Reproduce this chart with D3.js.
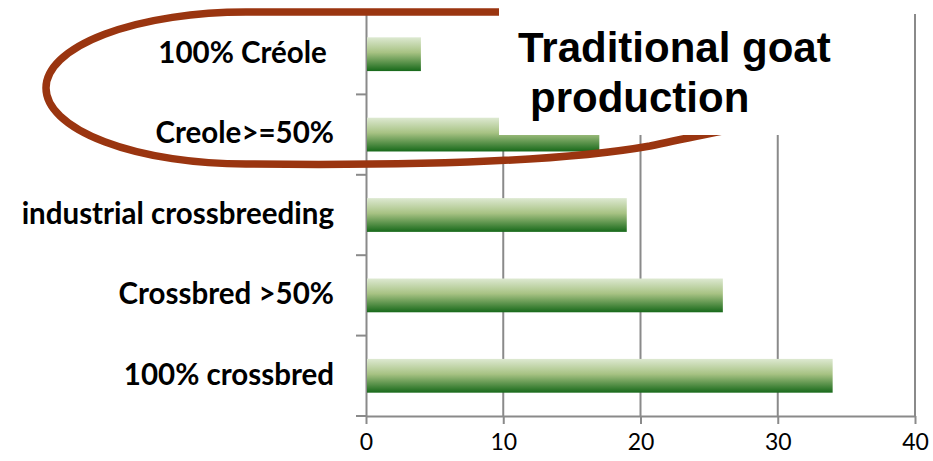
<!DOCTYPE html>
<html>
<head>
<meta charset="utf-8">
<script src="https://cdn.jsdelivr.net/npm/d3@7"></script>
<style>
  body { margin: 0; background: #fff; }
  svg { display: block; }
</style>
</head>
<body>
<svg id="chart" width="933" height="461"></svg>
<script>
// ── DATA ──────────────────────────────────────────────────────
const categories = ["100% Créole ", "Creole>=50%", "industrial crossbreeding", "Crossbred >50%", "100% crossbred"];
const values     = [4, 17, 19, 26, 34];
const xTicks     = [0, 10, 20, 30, 40];
const titleLines = ["Traditional goat", "production"];

const data = categories.map((c, i) => ({ label: c, value: values[i] }));

// ── LAYOUT ────────────────────────────────────────────────────
const svg = d3.select("#chart");
const plotLeft = 366, plotRight = 915, plotTop = 14, plotBottom = 416;

const x = d3.scaleLinear().domain([0, 40]).range([plotLeft, plotRight]);
const y = d3.scaleBand().domain(categories).range([plotTop, plotBottom]).padding(0);

const axisColor = "#8a8a8a";

// gradient for the bars: light on top, dark green at bottom
const grad = svg.append("defs").append("linearGradient")
  .attr("id", "barGrad")
  .attr("x1", 0).attr("y1", 0).attr("x2", 0).attr("y2", 1);
grad.append("stop").attr("offset", "0%").attr("stop-color", "#dde9d1");
grad.append("stop").attr("offset", "45%").attr("stop-color", "#a7c283");
grad.append("stop").attr("offset", "100%").attr("stop-color", "#17691a");

// ── GRIDLINES ─────────────────────────────────────────────────
svg.append("g")
  .selectAll("line")
  .data(xTicks.filter(t => t > 0))
  .join("line")
    .attr("x1", d => x(d)).attr("x2", d => x(d))
    .attr("y1", plotTop).attr("y2", plotBottom)
    .attr("stroke", axisColor)
    .attr("stroke-width", 2);

// ── X AXIS ────────────────────────────────────────────────────
const xAxis = svg.append("g")
  .attr("transform", `translate(0, ${plotBottom})`)
  .call(d3.axisBottom(x).tickValues(xTicks).tickSize(8).tickSizeOuter(0).tickPadding(10));

xAxis.select(".domain").attr("stroke", axisColor).attr("stroke-width", 2);
xAxis.selectAll(".tick line").attr("stroke", axisColor).attr("stroke-width", 2);
xAxis.selectAll(".tick text")
  .style("font-family", "Lato, sans-serif")
  .style("font-size", "23px")
  .attr("fill", "#000");

// ── Y AXIS ────────────────────────────────────────────────────
const yAxis = svg.append("g")
  .attr("transform", `translate(${plotLeft}, 0)`)
  .call(d3.axisLeft(y).tickSize(0).tickSizeOuter(0).tickPadding(32));

yAxis.select(".domain").attr("stroke", axisColor).attr("stroke-width", 2);
yAxis.selectAll(".tick text")
  .style("font-family", "Lato, sans-serif")
  .style("font-weight", "700")
  .style("font-size", "29.5px")
  .style("white-space", "pre")
  .attr("fill", "#000")
  .attr("dy", "0.3em");

// boundary ticks between categories
const bounds = categories.map(c => y(c)).concat([plotBottom]);
svg.append("g")
  .selectAll("line")
  .data(bounds)
  .join("line")
    .attr("x1", plotLeft - 10).attr("x2", plotLeft)
    .attr("y1", d => d).attr("y2", d => d)
    .attr("stroke", axisColor)
    .attr("stroke-width", 2);

// ── BARS ──────────────────────────────────────────────────────
const barFrac = 0.42;
svg.append("g")
  .selectAll("rect")
  .data(data)
  .join("rect")
    .attr("x", x(0) + 1)
    .attr("y", d => y(d.label) + y.bandwidth() * (1 - barFrac) / 2)
    .attr("width", d => x(d.value) - x(0) - 1)
    .attr("height", y.bandwidth() * barFrac)
    .attr("fill", "url(#barGrad)");

// ── ANNOTATION: oval round the creole groups ──────────────────
svg.append("path")
  .attr("d", "M246,12 L480,12 C700,12 860,30 860,70 C860,110 760,122 650,146 " +
             "C560,162 420,166 246,164 A200,76 0 0 1 246,12 Z")
  .attr("fill", "none")
  .attr("stroke", "#9a3510")
  .attr("stroke-width", 7.5);

// white title box sits over the oval
svg.append("rect")
  .attr("x", 499).attr("y", 0)
  .attr("width", 381).attr("height", 135)
  .attr("fill", "#fff");

svg.append("g")
  .selectAll("text")
  .data(titleLines)
  .join("text")
    .attr("x", (d, i) => i === 0 ? 518 : 530)
    .attr("y", (d, i) => i === 0 ? 62 : 112)
    .style("font-family", "Arial, 'Liberation Sans', sans-serif")
    .style("font-weight", "700")
    .style("font-size", "42px")
    .attr("fill", "#000")
    .text(d => d);
</script>
</body>
</html>
